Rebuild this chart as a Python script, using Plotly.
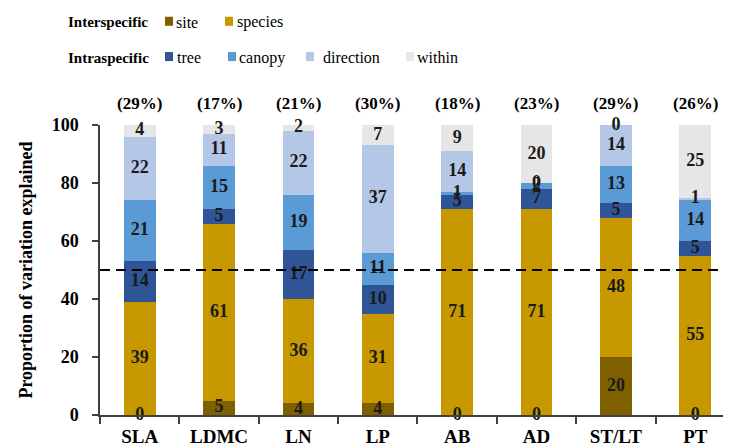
import plotly.graph_objects as go

categories = ["SLA", "LDMC", "LN", "LP", "AB", "AD", "ST/LT", "PT"]
site = [0, 5, 4, 4, 0, 0, 20, 0]
species = [39, 61, 36, 31, 71, 71, 48, 55]
tree = [14, 5, 17, 10, 5, 7, 5, 5]
canopy = [21, 15, 19, 11, 1, 2, 13, 14]
direction = [22, 11, 22, 37, 14, 0, 14, 1]
within = [4, 3, 2, 7, 9, 20, 0, 25]
totals_label = ["(29%)", "(17%)", "(21%)", "(30%)", "(18%)", "(23%)", "(29%)", "(26%)"]

series_names = ["site", "species", "tree", "canopy", "direction", "within"]
series_values = [site, species, tree, canopy, direction, within]
colors = ["#7f6000", "#c79800", "#2f5597", "#5b9bd5", "#b4c7e7", "#e7e6e6"]

FONT = "Liberation Serif"
OFF = 8  # page body margin

fig = go.Figure()
base = [0] * len(categories)
for name, vals, col in zip(series_names, series_values, colors):
    fig.add_trace(go.Bar(x=categories, y=vals, name=name, marker=dict(color=col, line=dict(width=0)),
                         width=0.4, showlegend=False, hoverinfo="skip"))
for name, vals in zip(series_names, series_values):
    mids = [b + v / 2 for b, v in zip(base, vals)]
    fig.add_trace(go.Scatter(x=categories, y=mids, mode="text", text=[str(v) for v in vals],
                             textfont=dict(family=FONT, size=18, color="#1a1a1a", weight="bold"),
                             textposition="middle center", showlegend=False, cliponaxis=False,
                             hoverinfo="skip"))
    base = [b + v for b, v in zip(base, vals)]

for c, t in zip(categories, totals_label):
    fig.add_annotation(x=c, y=100, yshift=22, text=t, showarrow=False, xref="x", yref="y",
                       font=dict(family=FONT, size=17, color="black", weight="bold"))

# dashed 50% line
fig.add_shape(type="line", xref="paper", yref="y", x0=0, x1=1, y0=50, y1=50,
              line=dict(color="black", width=2, dash="10px,6px"))

# custom two-row legend (positions in target-image pixels)
L, T, W, H = 100, 125, 631, 288
def px(xp):
    return (xp - L) / W
def py(yp):
    return (T + H - yp) / H

rows = [("Interspecific", 22, [("site", 0, 165, 176), ("species", 1, 225, 237)]),
        ("Intraspecific", 57, [("tree", 2, 165, 177), ("canopy", 3, 228, 239),
                               ("direction", 4, 306, 323), ("within", 5, 406, 417)])]
for title, yc, items in rows:
    fig.add_annotation(x=px(66), y=py(yc + 1), xref="paper", yref="paper", text=title, showarrow=False,
                       xanchor="left", yanchor="middle",
                       font=dict(family=FONT, size=15, color="black", weight="bold"))
    for lab, ci, sx, tx in items:
        fig.add_shape(type="rect", xref="paper", yref="paper", x0=px(sx), x1=px(sx + 8),
                      y0=py(yc + 4.5), y1=py(yc - 4.5), fillcolor=colors[ci], line=dict(width=0))
        fig.add_annotation(x=px(tx - 2), y=py(yc + 1), xref="paper", yref="paper", text=lab, showarrow=False,
                           xanchor="left", yanchor="middle",
                           font=dict(family=FONT, size=16, color="black"))

fig.update_layout(
    barmode="stack",
    width=731 - OFF, height=447 - OFF,
    margin=dict(l=L - OFF, r=0, t=T - OFF, b=34 - OFF),
    plot_bgcolor="white", paper_bgcolor="white",
    font=dict(family=FONT, color="black"),
    xaxis=dict(type="category", range=[-0.5, 7.45], showline=True, linecolor="#404040", linewidth=1.5,
               ticks="outside", tickson="boundaries", ticklen=7, tickcolor="#404040", tickwidth=1.5,
               tickfont=dict(family=FONT, size=19, color="black", weight="bold"), showgrid=False,
               ticklabelstandoff=3),
    yaxis=dict(range=[0, 100], dtick=20, showline=True, linecolor="#404040", linewidth=1.5,
               ticks="outside", ticklen=6, tickcolor="#404040", tickwidth=1.5, showgrid=False, zeroline=False,
               tickfont=dict(family=FONT, size=18, color="black", weight="bold"), ticklabelstandoff=10,
               title=dict(text="Proportion of variation explained", standoff=14,
                          font=dict(family=FONT, size=18, color="black", weight="bold"))),
)

fig.write_html("out.html")
